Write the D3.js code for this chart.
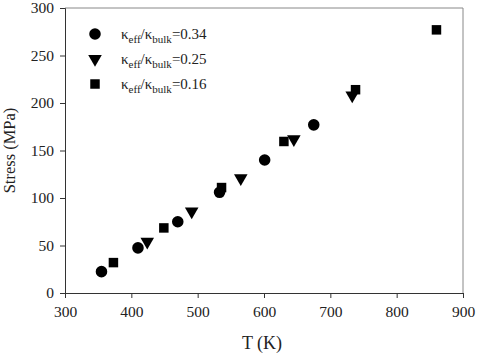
<!DOCTYPE html>
<html>
<head>
<meta charset="utf-8">
<script src="https://cdn.jsdelivr.net/npm/d3@7"></script>
<style>
body { margin: 0; background: #fff; }
svg { font-family: "Liberation Serif", "Times New Roman", serif; }
</style>
</head>
<body>
<div id="chart"></div>
<script>
var width = 477,
  height = 356;

// data
var seriesNames = ["0.34", "0.25", "0.16"];
var circleT = [355, 410, 470, 533, 601, 675];
var circleS = [22.5, 47.5, 75, 106, 140, 177];
var triT = [424, 491, 565, 645, 733];
var triS = [54, 86, 121, 162, 208];
var squareT = [373, 449, 536, 630, 738, 860];
var squareS = [32, 68.5, 111, 159.5, 214, 277];
var xTicks = [300, 400, 500, 600, 700, 800, 900];
var yTicks = [0, 50, 100, 150, 200, 250, 300];

var margin = {top: 8, right: 14, bottom: 63, left: 65};

var svg = d3.select("#chart")
  .append("svg")
  .attr("width", width)
  .attr("height", height)
  .append("g")
  .attr("transform", "translate(" + margin.left + "," + margin.top + ")");

var w = width - margin.left - margin.right,
  h = height - margin.top - margin.bottom;

var x = d3.scaleLinear().domain([300, 900]).range([0, w]);
var y = d3.scaleLinear().domain([0, 300]).range([h, 0]);

// frame top/right
svg.append("path")
  .attr("d", "M0,0H" + w + "V" + h)
  .attr("fill", "none")
  .attr("stroke", "#888")
  .attr("stroke-width", 1);

var xAxis = svg.append("g")
  .attr("transform", "translate(0," + h + ")")
  .call(d3.axisBottom(x).tickValues(xTicks).tickSize(5).tickPadding(8));

var yAxis = svg.append("g")
  .call(d3.axisLeft(y).tickValues(yTicks).tickSize(5).tickPadding(6));

svg.selectAll(".domain").attr("stroke", "#333");
svg.selectAll(".tick line").attr("stroke", "#333");
svg.selectAll(".tick text")
  .attr("fill", "#222")
  .style("font-size", "15.5px")
  .style("font-family", "'Liberation Serif', serif");

svg.append("text")
  .attr("x", x(600) - 2)
  .attr("y", h + 56)
  .attr("text-anchor", "middle")
  .attr("fill", "#222")
  .style("font-size", "18px")
  .text("T (K)");

svg.append("text")
  .attr("transform", "translate(" + (-50) + "," + (h / 2) + ") rotate(-90)")
  .attr("text-anchor", "middle")
  .attr("fill", "#222")
  .style("font-size", "16.5px")
  .text("Stress (MPa)");

var sym = [d3.symbolCircle, d3.symbolTriangle, d3.symbolSquare];
var sizes = [105, 80, 90];

function drawSeries(ts, ss, i) {
  var data = ts.map(function(t, k) { return {t: t, s: ss[k]}; });
  svg.append("g").selectAll("path")
    .data(data)
    .enter().append("path")
    .attr("d", d3.symbol().type(sym[i]).size(sizes[i]))
    .attr("fill", "#000")
    .attr("transform", function(d) {
      var r = i === 1 ? " rotate(180)" : "";
      return "translate(" + x(d.t) + "," + y(d.s) + ")" + r;
    });
}
drawSeries(circleT, circleS, 0);
drawSeries(triT, triS, 1);
drawSeries(squareT, squareS, 2);

// legend
var legend = svg.append("g").attr("transform", "translate(30,26)");
seriesNames.forEach(function(name, i) {
  var g = legend.append("g").attr("transform", "translate(0," + (i * 25) + ")");
  g.append("path")
    .attr("d", d3.symbol().type(sym[i]).size(sizes[i]))
    .attr("transform", i === 1 ? "rotate(180)" : null)
    .attr("fill", "#000");
  var t = g.append("text")
    .attr("x", 26)
    .attr("y", 5)
    .attr("fill", "#222")
    .style("font-size", "15px");
  t.append("tspan").text("\u03ba");
  t.append("tspan").attr("dy", 4).style("font-size", "11px").text("eff");
  t.append("tspan").attr("dy", -4).text("/\u03ba");
  t.append("tspan").attr("dy", 4).style("font-size", "11px").text("bulk");
  t.append("tspan").attr("dy", -4).text("=" + name);
});
</script>
</body>
</html>
